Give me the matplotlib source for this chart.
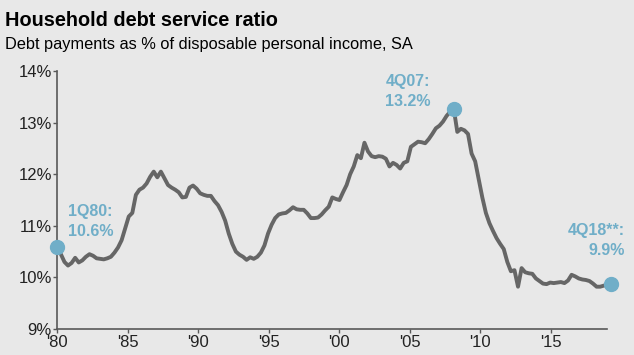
import matplotlib
matplotlib.use("Agg")
import matplotlib.pyplot as plt
import numpy as np

# quarterly debt service ratio, 1Q80 .. 4Q18 (% of disposable income)
dsr_1980s = [10.58, 10.45, 10.30, 10.23, 10.28, 10.38, 10.29, 10.33,
             10.40, 10.45, 10.42, 10.37, 10.36, 10.35, 10.37, 10.40,
             10.48, 10.58, 10.72, 10.95, 11.18, 11.25, 11.60, 11.70,
             11.74, 11.82, 11.95, 12.05, 11.94, 12.05, 11.92, 11.79,
             11.74, 11.70, 11.65, 11.55, 11.56, 11.74, 11.78, 11.72]
dsr_1990s = [11.63, 11.60, 11.58, 11.58, 11.48, 11.40, 11.27, 11.10,
             10.85, 10.65, 10.50, 10.44, 10.40, 10.34, 10.39, 10.36,
             10.40, 10.48, 10.62, 10.85, 11.02, 11.15, 11.22, 11.24,
             11.25, 11.30, 11.36, 11.32, 11.31, 11.31, 11.24, 11.15,
             11.15, 11.16, 11.22, 11.30, 11.37, 11.55, 11.52, 11.50]
dsr_2000s = [11.65, 11.79, 12.00, 12.15, 12.37, 12.31, 12.61, 12.44,
             12.35, 12.33, 12.35, 12.34, 12.30, 12.15, 12.22, 12.18,
             12.11, 12.22, 12.25, 12.53, 12.58, 12.63, 12.62, 12.60,
             12.68, 12.78, 12.89, 12.94, 13.02, 13.13, 13.21, 13.27,
             12.82, 12.88, 12.85, 12.78, 12.40, 12.25, 11.90, 11.55]
dsr_2010s = [11.25, 11.05, 10.90, 10.76, 10.65, 10.55, 10.30, 10.12,
             10.14, 9.82, 10.18, 10.10, 10.08, 10.07, 9.98, 9.93,
             9.88, 9.87, 9.90, 9.89, 9.90, 9.91, 9.89, 9.94,
             10.05, 10.02, 9.98, 9.96, 9.95, 9.93, 9.88, 9.82,
             9.82, 9.84, 9.86, 9.87]

tick_years = [1980, 1985, 1990, 1995, 2000, 2005, 2010, 2015]
tick_labels = ["'80", "'85", "'90", "'95", "'00", "'05", "'10", "'15"]
y_ticks = [9, 10, 11, 12, 13, 14]

# highlighted quarters: (quarter index, label)
highlights = [(0, "1Q80:\n10.6%"), (111, "4Q07:\n13.2%"), (155, "4Q18**:\n9.9%")]

dsr = np.array(dsr_1980s + dsr_1990s + dsr_2000s + dsr_2010s)
q = np.arange(len(dsr))

bg = "#e8e8e8"
blue = "#70aec8"
plt.rcParams["font.family"] = ["Liberation Sans", "DejaVu Sans"]

fig = plt.figure(figsize=(6.34, 3.55), dpi=100, facecolor=bg)
ax = fig.add_axes([0.0904, 0.0732, 0.8675, 0.7268])
ax.set_facecolor(bg)

ax.plot(q, dsr, color="#666666", lw=2.8, clip_on=False, zorder=2,
        solid_joinstyle="round")

offsets = {0: ((24, 6), "center"), 111: ((-33, 0), "center"), 155: ((10, 19), "right")}
for i, label in highlights:
    ax.plot(q[i], dsr[i], "o", ms=10, color=blue, clip_on=False, zorder=3)
    off, ha = offsets[i]
    ax.annotate(label, (q[i], dsr[i]), xytext=off, textcoords="offset points",
                ha=ha, va="bottom", multialignment=ha, color=blue,
                fontsize=11.5, fontweight="bold", linespacing=1.4,
                annotation_clip=False)

ax.set_xlim(0, 154)
ax.set_ylim(9, 14)
span = 154 / 39  # quarters per year on the axis
ax.set_xticks([(y - 1980) * span for y in tick_years])
ax.set_xticklabels(tick_labels)
ax.set_yticks(y_ticks)
ax.set_yticklabels([f"{v}%" for v in y_ticks])

for s in ["top", "right"]:
    ax.spines[s].set_visible(False)
for s in ["left", "bottom"]:
    ax.spines[s].set_color("#595959")
    ax.spines[s].set_linewidth(1.2)
ax.tick_params(axis="both", colors="#595959", length=3, width=1,
               labelsize=12, labelcolor="#222222", pad=1)

fig.text(0.008, 0.927, "Household debt service ratio", fontsize=14.3,
         fontweight="bold", color="black")
fig.text(0.008, 0.862, "Debt payments as % of disposable personal income, SA",
         fontsize=11.8, color="black")

fig.savefig("out.png", dpi=100, facecolor=bg)
